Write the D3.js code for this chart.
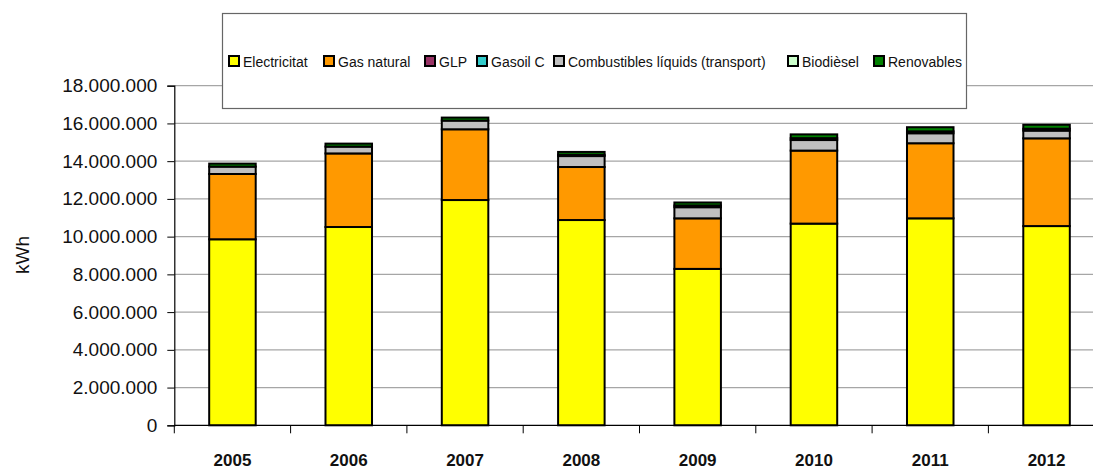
<!DOCTYPE html>
<html>
<head>
<meta charset="utf-8">
<script src="https://cdn.jsdelivr.net/npm/d3@7"></script>
<style>
  body { margin: 0; background: #fff; }
  text { font-family: "Liberation Sans", Arial, sans-serif; }
</style>
</head>
<body>
<div id="chart"></div>
<script>
// data (kWh)
let years = ["2005", "2006", "2007", "2008", "2009", "2010", "2011", "2012"];
let electricitat = [9860000, 10510000, 11940000, 10880000, 8290000, 10690000, 10970000, 10560000];
let gasNatural = [3460000, 3900000, 3750000, 2810000, 2680000, 3870000, 3980000, 4650000];
let glp = [0, 0, 0, 0, 0, 0, 0, 0];
let gasoilC = [0, 0, 0, 0, 0, 0, 0, 0];
let combustibles = [390000, 360000, 460000, 580000, 590000, 560000, 530000, 410000];
let biodiesel = [0, 0, 0, 70000, 90000, 100000, 100000, 100000];
let renovables = [160000, 160000, 160000, 150000, 160000, 200000, 220000, 210000];
let seriesNames = ["Electricitat", "Gas natural", "GLP", "Gasoil C", "Combustibles líquids (transport)", "Biodièsel", "Renovables"];
let yTicks = [0, 2000000, 4000000, 6000000, 8000000, 10000000, 12000000, 14000000, 16000000, 18000000];

let colors = ["#FFFF00", "#FF9900", "#993366", "#33CCCC", "#C0C0C0", "#CCFFCC", "#008000"];
let legendX = [229, 324, 425, 477, 554, 788, 874];

// setup SVG container
let svgWidth = 1093;
let svgHeight = 469;
let margin = { top: 85.7, left: 174.3 };
let bodyHeight = 425.3 - margin.top;
let bodyWidth = 116.3 * years.length;

let svg = d3.select("#chart").append("svg")
    .attr("width", svgWidth)
    .attr("height", svgHeight);

let chartGroup = svg.append("g")
    .attr("transform", `translate(${margin.left},${margin.top})`);

// build stacked table
let keys = ["e", "g", "glp", "gc", "cl", "bio", "ren"];
let cols = [electricitat, gasNatural, glp, gasoilC, combustibles, biodiesel, renovables];
let table = years.map(function(y, i) {
    let row = { year: y };
    keys.forEach(function(k, j) { row[k] = cols[j][i]; });
    return row;
});
let stacked = d3.stack().keys(keys)(table);

// scales
let xScale = d3.scaleBand().domain(years).range([0, bodyWidth]).padding(0);
let barScale = d3.scaleBand().domain(years).range([0, bodyWidth])
    .paddingInner(0.6).paddingOuter(0.3);
let yScale = d3.scaleLinear().domain([0, 18000000]).range([bodyHeight, 0]);

let locale = d3.formatLocale({ decimal: ",", thousands: ".", grouping: [3], currency: ["", ""] });
let fmt = locale.format(",d");

// gridlines
chartGroup.append("g").selectAll("line")
    .data(yTicks.slice(1))
    .enter().append("line")
    .attr("x1", 0).attr("x2", bodyWidth)
    .attr("y1", d => yScale(d)).attr("y2", d => yScale(d))
    .attr("stroke", "#a6a6a6").attr("stroke-width", 1.2);

// left axis
let leftAxis = d3.axisLeft(yScale).tickValues(yTicks).tickFormat(fmt).tickSize(7).tickPadding(10);
let yAxisG = chartGroup.append("g").call(leftAxis);
yAxisG.select(".domain").attr("stroke", "#000").attr("stroke-width", 1.2);
yAxisG.selectAll(".tick line").attr("stroke", "#000");
yAxisG.selectAll("text").attr("font-size", "19px").attr("fill", "#111")
    .attr("font-family", "'Liberation Sans', Arial, sans-serif");

chartGroup.append("text")
    .attr("transform", "rotate(-90)")
    .attr("x", -(255 - margin.top))
    .attr("y", 29.3 - margin.left)
    .attr("text-anchor", "middle")
    .attr("font-size", "19px")
    .attr("fill", "#111")
    .text("kWh");

// bars
let layers = chartGroup.append("g").selectAll("g")
    .data(stacked)
    .enter().append("g")
    .attr("fill", (d, i) => colors[i]);

layers.selectAll("rect")
    .data(d => d.filter(s => s[1] - s[0] > 0))
    .enter().append("rect")
    .attr("x", d => barScale(d.data.year))
    .attr("width", barScale.bandwidth())
    .attr("y", d => yScale(d[1]))
    .attr("height", d => yScale(d[0]) - yScale(d[1]))
    .attr("stroke", "#000")
    .attr("stroke-width", 2);

// bottom axis
chartGroup.append("line")
    .attr("x1", 0).attr("x2", bodyWidth)
    .attr("y1", bodyHeight).attr("y2", bodyHeight)
    .attr("stroke", "#000").attr("stroke-width", 1.2);

chartGroup.append("g").selectAll("line")
    .data(years)
    .enter().append("line")
    .attr("x1", d => xScale(d)).attr("x2", d => xScale(d))
    .attr("y1", bodyHeight).attr("y2", bodyHeight + 8)
    .attr("stroke", "#000");

chartGroup.append("g").selectAll("text")
    .data(years)
    .enter().append("text")
    .attr("x", d => xScale(d) + xScale.bandwidth() / 2)
    .attr("y", bodyHeight + 41)
    .attr("text-anchor", "middle")
    .attr("font-size", "17px")
    .attr("font-weight", "bold")
    .attr("fill", "#111")
    .text(d => d);

// legend
svg.append("rect")
    .attr("x", 222.5).attr("y", 13.5)
    .attr("width", 744).attr("height", 95)
    .attr("fill", "#fff").attr("stroke", "#666").attr("stroke-width", 1.2);

let legend = svg.append("g").selectAll("g")
    .data(seriesNames)
    .enter().append("g")
    .attr("transform", (d, i) => `translate(${legendX[i]},56)`);

legend.append("rect")
    .attr("width", 10).attr("height", 10)
    .attr("fill", (d, i) => colors[i])
    .attr("stroke", "#000").attr("stroke-width", 2);

legend.append("text")
    .attr("x", 14).attr("y", 10.5)
    .attr("font-size", "14px")
    .attr("fill", "#111")
    .text(d => d);
</script>
</body>
</html>
